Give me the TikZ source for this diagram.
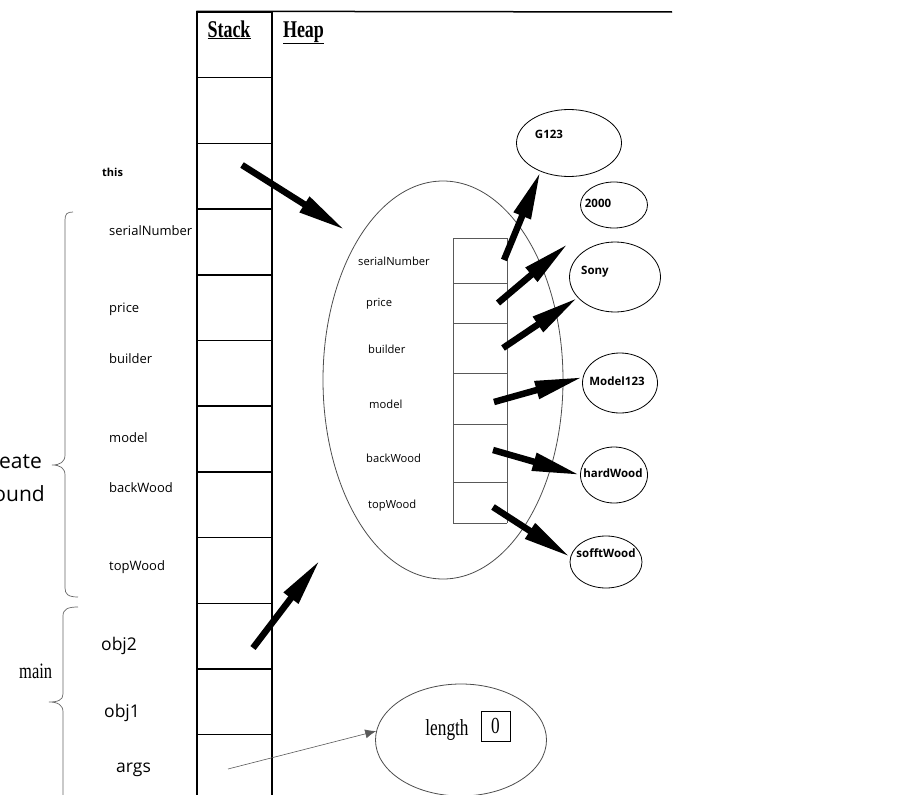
\documentclass[tikz,border=0pt]{standalone}
\usepackage{fontspec}
\usepackage{graphicx}
\setmainfont{Liberation Serif}
\setsansfont{Open Sans}
\usetikzlibrary{arrows.meta,shapes.geometric}
\newcommand{\narrow}[1]{\scalebox{0.75}[1]{#1}}

\begin{document}
\begin{tikzpicture}[x=1pt,y=-1pt,
    ptr/.style={-{Triangle[length=48pt,width=17pt]},line width=6.5pt},
    thinptr/.style={-{Latex[length=11pt,width=9pt]},gray!70!black,line width=0.6pt},
    cell/.style={draw,line width=1.5pt,minimum width=75pt,minimum height=65.7pt,inner sep=0pt},
    lbl/.style={font=\sffamily\fontsize{13}{15}\selectfont,anchor=base west,inner sep=0pt},
    biglbl/.style={lbl,font=\sffamily\fontsize{17.5}{20}\selectfont},
    inlbl/.style={lbl,font=\sffamily\fontsize{11.2}{13}\selectfont},
    valtxt/.style={font=\sffamily\bfseries\fontsize{11.5}{13}\selectfont,inner sep=0pt},
    val/.style={draw,ellipse,line width=0.8pt,inner sep=0pt},
    obj/.style={draw,ellipse,gray!60!black,line width=0.8pt,inner sep=0pt},
    brc/.style={gray!80!black,line width=0.7pt},
    tbl/.style={gray!70!black,line width=0.8pt}]

  \clip (0,0) rectangle (921,795);

  % stack and heap
  \foreach \i in {1,...,12}
    \node[cell] (s\i) at (234.5,{12+65.7*(\i-0.5)}) {};
  \draw[line width=1.5pt] (s1.north west) -- (672,12);
  \node[anchor=base] (stack) at (229,37) {\narrow{\bfseries\fontsize{24}{26}\selectfont\underline{Stack}}};
  \node[anchor=base] (heap) at (303.5,37) {\narrow{\bfseries\fontsize{24}{26}\selectfont\underline{Heap}}};

  % frames
  \node[lbl,font=\sffamily\bfseries\fontsize{11}{13}\selectfont] (l this) at (102,176) {this};
  \node[lbl] (l serial)  at (109,235) {serialNumber};
  \node[lbl] (l price)   at (109,312) {price};
  \node[lbl] (l builder) at (109,363) {builder};
  \node[lbl] (l model)   at (109,442) {model};
  \node[lbl] (l back)    at (109,492) {backWood};
  \node[lbl] (l top)     at (109,570) {topWood};
  \node[biglbl] (l obj2) at (101,650) {obj2};
  \node[biglbl] (l obj1) at (104,717) {obj1};
  \node[biglbl] (l args) at (116,772) {args};

  \draw[brc] (73,212) .. controls (67,212) and (65,214) .. (65,220) -- (65,455)
    .. controls (65,462) and (60,465) .. (52,465) .. controls (60,465) and (65,468) .. (65,475)
    -- (65,588) .. controls (65,594) and (68,597) .. (78,597);
  \draw[brc] (78,607) .. controls (68,607) and (63,609) .. (63,616) -- (63,694)
    .. controls (63,700) and (58,702) .. (49,702) .. controls (58,702) and (63,705) .. (63,712)
    -- (63,800);
  \node[anchor=base east,inner sep=0pt,font=\sffamily\fontsize{21}{23}\selectfont] (l create) at (42,468) {reate};
  \node[anchor=base east,inner sep=0pt,font=\sffamily\fontsize{21}{23}\selectfont] (l create2) at (45,501) {ound};
  \node[anchor=base west,inner sep=0pt] (l main) at (19,678) {\narrow{\fontsize{22}{24}\selectfont main}};

  % guitar object
  \node[obj,minimum width=240pt,minimum height=398pt] (obj) at (443,380) {};
  \foreach \y in {238,283,323,373,424,482,523}
    \draw[tbl] (453,\y) -- (507,\y);
  \draw[tbl] (453,238) -- (453,523);
  \draw[tbl] (507,238) -- (507,523);
  \node[inlbl] (f serial)  at (358,265) {serialNumber};
  \node[inlbl] (f price)   at (366,306) {price};
  \node[inlbl] (f builder) at (368,353) {builder};
  \node[inlbl] (f model)   at (369,408) {model};
  \node[inlbl] (f back)    at (366,462) {backWood};
  \node[inlbl] (f top)     at (368,508) {topWood};

  % values
  \node[val,minimum width=105pt,minimum height=67pt] (g123) at (569,143) {};
  \node[valtxt] (g123 t) at (549,134) {G123};
  \node[val,minimum width=67pt,minimum height=46pt] (n2000) at (614,205) {};
  \node[valtxt] (n2000 t) at (598,203) {2000};
  \node[val,minimum width=91pt,minimum height=70pt] (sony) at (615,277) {};
  \node[valtxt] (sony t) at (595,272) {Sony};
  \node[val,minimum width=75pt,minimum height=60pt] (m123) at (620,383) {};
  \node[valtxt] (m123 t) at (617,381) {Model123};
  \node[val,minimum width=67pt,minimum height=56pt] (hard) at (614,475) {};
  \node[valtxt] (hard t) at (613,473) {hardWood};
  \node[val,minimum width=72pt,minimum height=52pt] (soft) at (606,562) {};
  \node[valtxt] (soft t) at (606,553) {sofftWood};

  % args array
  \node[obj,minimum width=171pt,minimum height=112pt] (len) at (461,740) {};
  \node[anchor=base,inner sep=0pt] (len t) at (447,735) {\narrow{\fontsize{23}{25}\selectfont length}};
  \node[draw,line width=1pt,minimum width=29pt,minimum height=30pt,inner sep=0pt] (len v) at (495.5,726) {\narrow{\fontsize{23}{25}\selectfont 0}};

  % references
  \coordinate (p this)    at (242,165);
  \coordinate (e this)    at (345,230);
  \coordinate (p obj2)    at (253,648);
  \coordinate (e obj2)    at (320,560);
  \coordinate (p args)    at (228,769);
  \coordinate (p serial)  at (504,260);
  \coordinate (p price)   at (498,303);
  \coordinate (p builder) at (503,348);
  \coordinate (p model)   at (494,402);
  \coordinate (p back)    at (493,450);
  \coordinate (p top)     at (493,507);

  \draw[ptr] (p this) -- (e this);
  \draw[ptr] (p obj2) -- (e obj2);
  \draw[thinptr] (p args) -- (len.174);
  \draw[ptr] (p serial) -- (g123.225);
  \draw[ptr,shorten >=32pt] (p price) -- (n2000.220);
  \draw[ptr] (p builder) -- (sony.209);
  \draw[ptr] (p model) -- (m123.171);
  \draw[ptr] (p back) -- (hard.180);
  \draw[ptr] (p top) -- (soft.172);

\end{tikzpicture}
\end{document}
